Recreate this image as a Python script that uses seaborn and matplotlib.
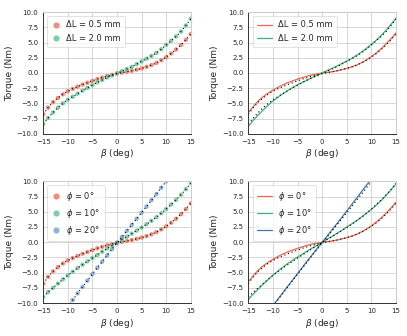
import pandas as pd
import matplotlib
matplotlib.use("Agg")
import matplotlib.pyplot as plt
import numpy as np
import seaborn as sns

# beta grid (deg)
beta = list(range(-15, 16))
beta_20 = list(range(-10, 11))

# measured torque (Nm)
dl05_meas = [-6.8, -5.7, -4.8, -4.1, -3.5, -3.0, -2.6, -2.25, -1.9, -1.6, -1.3, -1.0, -0.75, -0.5, -0.3, -0.1,
             0.05, 0.2, 0.35, 0.55, 0.75, 1.0, 1.3, 1.65, 2.1, 2.6, 3.2, 3.85, 4.6, 5.45, 6.4]
dl20_meas = [-8.4, -7.4, -6.5, -5.7, -5.0, -4.4, -3.9, -3.4, -2.9, -2.45, -2.0, -1.55, -1.15, -0.75, -0.4, -0.05,
             0.3, 0.65, 1.0, 1.45, 1.9, 2.35, 2.8, 3.3, 3.9, 4.6, 5.3, 6.0, 6.8, 7.8, 8.9]
phi0_meas = dl05_meas
phi10_meas = [-9.0, -8.2, -7.5, -6.8, -6.1, -5.45, -4.85, -4.25, -3.7, -3.15, -2.6, -2.1, -1.55, -1.05, -0.55, -0.05,
              0.45, 0.9, 1.4, 1.9, 2.4, 2.95, 3.5, 4.1, 4.75, 5.45, 6.2, 6.95, 7.8, 8.7, 9.7]
phi20_meas = [-10.6, -9.5, -8.4, -7.35, -6.3, -5.25, -4.2, -3.2, -2.15, -1.15, -0.15,
              0.85, 1.85, 2.85, 3.85, 4.85, 5.85, 6.9, 7.9, 8.95, 10.0]

# model torque (Nm)
dl05_model = [-6.5, -5.5, -4.6, -3.9, -3.3, -2.8, -2.35, -1.95, -1.6, -1.3, -1.0, -0.75, -0.5, -0.3, -0.15, 0.0,
              0.1, 0.2, 0.35, 0.55, 0.75, 1.0, 1.3, 1.7, 2.15, 2.7, 3.3, 4.0, 4.8, 5.65, 6.6]
dl20_model = [-8.8, -7.8, -6.9, -6.1, -5.3, -4.6, -4.0, -3.4, -2.9, -2.4, -1.95, -1.55, -1.15, -0.75, -0.4, 0.0,
              0.4, 0.75, 1.15, 1.55, 1.95, 2.4, 2.9, 3.45, 4.05, 4.7, 5.4, 6.2, 7.05, 8.0, 9.0]
phi0_model = dl05_model
phi10_model = [-9.45, -8.5, -7.7, -6.9, -6.15, -5.4, -4.75, -4.1, -3.5, -2.95, -2.45, -1.95, -1.45, -0.95, -0.5, 0.0,
               0.5, 0.95, 1.45, 1.95, 2.5, 3.0, 3.55, 4.15, 4.75, 5.4, 6.1, 6.85, 7.7, 8.6, 9.55]
phi20_model = [-10.4, -9.35, -8.3, -7.25, -6.2, -5.15, -4.1, -3.05, -2.05, -1.0, 0.0,
               1.0, 2.05, 3.05, 4.1, 5.15, 6.2, 7.25, 8.3, 9.35, 10.4]

dl_labels = ["ΔL = 0.5 mm", "ΔL = 2.0 mm"]
phi_labels = [r"$\phi$ = 0°", r"$\phi$ = 10°", r"$\phi$ = 20°"]

scat_colors = ["#f0705a", "#5cc28c", "#6fa0d0"]
line_colors = ["#f26450", "#3cb371", "#4178b0"]


def long_df(series, labels):
    frames = []
    for (b, t), lab in zip(series, labels):
        frames.append(pd.DataFrame({"beta": b, "torque": t, "case": lab}))
    return pd.concat(frames, ignore_index=True)


sns.set_style("whitegrid")
plt.rcParams["font.family"] = ["DejaVu Sans"]

fig, axes = plt.subplots(2, 2, figsize=(4.07, 3.36), dpi=100)
fig.subplots_adjust(left=0.106, right=0.973, top=0.964, bottom=0.098, wspace=0.39, hspace=0.39)

dl_meas = long_df([(beta, dl05_meas), (beta, dl20_meas)], dl_labels)
dl_mod = long_df([(beta, dl05_model), (beta, dl20_model)], dl_labels)
phi_meas = long_df([(beta, phi0_meas), (beta, phi10_meas), (beta_20, phi20_meas)], phi_labels)
phi_mod = long_df([(beta, phi0_model), (beta, phi10_model), (beta_20, phi20_model)], phi_labels)

panels = [
    (axes[0, 0], dl_meas, dl_labels, "scatter"),
    (axes[0, 1], dl_mod, dl_labels, "line"),
    (axes[1, 0], phi_meas, phi_labels, "scatter"),
    (axes[1, 1], phi_mod, phi_labels, "line"),
]
fits = {0: dl_meas, 1: dl_meas, 2: phi_meas, 3: phi_meas}

for i, (ax, df, labels, kind) in enumerate(panels):
    n = len(labels)
    if kind == "scatter":
        sns.scatterplot(data=df, x="beta", y="torque", hue="case", hue_order=labels,
                        palette=scat_colors[:n], s=10, alpha=0.8, linewidth=0, ax=ax)
    else:
        sns.lineplot(data=df, x="beta", y="torque", hue="case", hue_order=labels,
                     palette=line_colors[:n], linewidth=0.9, ax=ax)
    fit = fits[i]
    for lab in fit["case"].unique():
        sub = fit[fit["case"] == lab]
        sns.lineplot(x=sub["beta"].values, y=sub["torque"].values, color="k",
                     dashes=False, linestyle=(0, (1, 2.5)), linewidth=0.8, legend=False, ax=ax)
    ax.set_xlim(-15, 15)
    ax.set_ylim(-10, 10)
    ax.set_xticks([-15, -10, -5, 0, 5, 10, 15])
    ax.set_yticks(np.arange(-10, 10.1, 2.5))
    ax.tick_params(labelsize=5, length=2, pad=1.5, color="#333333")
    ax.set_xlabel(r"$\beta$ (deg)", fontsize=6.5, labelpad=2)
    ax.set_ylabel("Torque (Nm)", fontsize=6.5, labelpad=2)
    ax.grid(color="#d0d0d0", linewidth=0.6)
    for side in ["left", "bottom"]:
        ax.spines[side].set_color("#333333")
        ax.spines[side].set_linewidth(0.7)
    for side in ["top", "right"]:
        ax.spines[side].set_color("#cccccc")
        ax.spines[side].set_linewidth(0.7)
    leg = ax.legend(loc="upper left", fontsize=6, frameon=True, borderpad=0.5,
                    handlelength=1.8 if kind == "line" else 1.0, labelspacing=0.5,
                    markerscale=1.4)
    leg.get_frame().set_linewidth(0.5)
    leg.get_frame().set_edgecolor("#cccccc")

fig.savefig("out.png", dpi=100)
